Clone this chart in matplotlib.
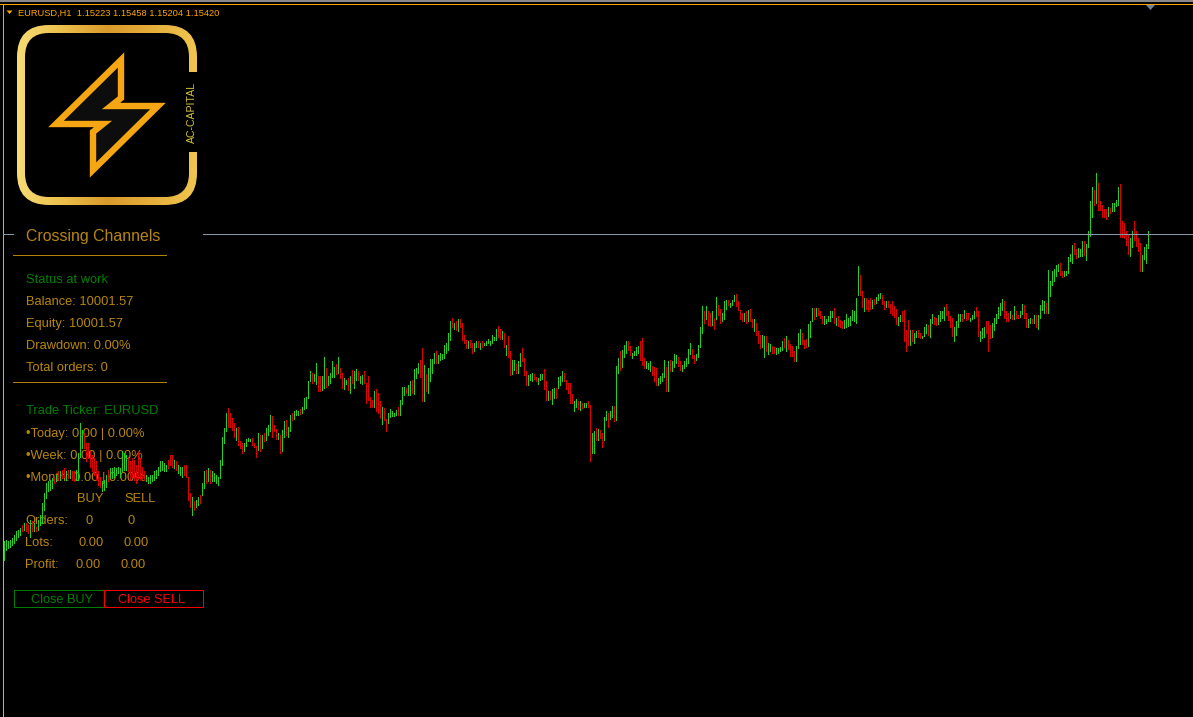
import matplotlib
matplotlib.use("Agg")
import matplotlib.pyplot as plt
from matplotlib.patches import Rectangle, Polygon, FancyBboxPatch
from matplotlib.colors import LinearSegmentedColormap
import numpy as np

# ---------------- data ----------------
symbol = "EURUSD"
timeframe = "H1"
last_ohlc = [1.15223, 1.15458, 1.15204, 1.15420]

highs = [
    1.1081, 1.1083, 1.1081, 1.1083, 1.1086, 1.1091, 1.1096, 1.1098, 1.1101, 1.1106,
    1.1108, 1.1108, 1.1106, 1.1113, 1.1111, 1.1108, 1.1103, 1.1113, 1.1121, 1.1138,
    1.1153, 1.1168, 1.1171, 1.1173, 1.1176, 1.1178, 1.1181, 1.1186, 1.1186, 1.1188,
    1.1191, 1.1186, 1.1188, 1.1188, 1.1186, 1.1186, 1.1188, 1.1213, 1.1258, 1.1248,
    1.1243, 1.1228, 1.1228, 1.1216, 1.1211, 1.1206, 1.1201, 1.1186, 1.1178, 1.1171,
    1.1173, 1.1181, 1.1188, 1.1191, 1.1191, 1.1193, 1.1191, 1.1193, 1.1191, 1.1216,
    1.1213, 1.1211, 1.1208, 1.1201, 1.1206, 1.1203, 1.1196, 1.1216, 1.1206, 1.1193,
    1.1186, 1.1181, 1.1178, 1.1181, 1.1181, 1.1186, 1.1188, 1.1193, 1.1201, 1.1201,
    1.1198, 1.1196, 1.1203, 1.1211, 1.1211, 1.1203, 1.1201, 1.1196, 1.1193, 1.1193,
    1.1196, 1.1196, 1.1178, 1.1153, 1.1148, 1.1141, 1.1143, 1.1148, 1.1151, 1.1168,
    1.1186, 1.1188, 1.1191, 1.1188, 1.1186, 1.1183, 1.1181, 1.1178, 1.1203, 1.1238,
    1.1251, 1.1273, 1.1281, 1.1273, 1.1266, 1.1258, 1.1251, 1.1253, 1.1232, 1.1229,
    1.1228, 1.1234, 1.1236, 1.1234, 1.1236, 1.1228, 1.1224, 1.1243, 1.1241, 1.1241,
    1.1243, 1.1251, 1.1256, 1.1271, 1.1269, 1.1256, 1.1249, 1.1244, 1.1241, 1.1248,
    1.1262, 1.1263, 1.1252, 1.1271, 1.1274, 1.1277, 1.1278, 1.1277, 1.1280, 1.1283,
    1.1296, 1.1297, 1.1321, 1.1336, 1.1333, 1.1332, 1.1349, 1.1329, 1.1329, 1.1329,
    1.1357, 1.1341, 1.1329, 1.1334, 1.1351, 1.1343, 1.1347, 1.1357, 1.1341, 1.1333,
    1.1326, 1.1323, 1.1326, 1.1329, 1.1338, 1.1336, 1.1339, 1.1337, 1.1329, 1.1330,
    1.1337, 1.1319, 1.1329, 1.1298, 1.1293, 1.1307, 1.1309, 1.1303, 1.1292, 1.1282,
    1.1281, 1.1264, 1.1274, 1.1279, 1.1276, 1.1273, 1.1278, 1.1282, 1.1293, 1.1312,
    1.1312, 1.1311, 1.1316, 1.1321, 1.1323, 1.1339, 1.1341, 1.1348, 1.1353, 1.1371,
    1.1346, 1.1332, 1.1341, 1.1354, 1.1354, 1.1363, 1.1366, 1.1361, 1.1363, 1.1362,
    1.1376, 1.1378, 1.1393, 1.1412, 1.1416, 1.1409, 1.1411, 1.1414, 1.1414, 1.1408,
    1.1391, 1.1383, 1.1382, 1.1383, 1.1379, 1.1379, 1.1381, 1.1382, 1.1379, 1.1381,
    1.1379, 1.1382, 1.1384, 1.1381, 1.1391, 1.1388, 1.1399, 1.1404, 1.1399, 1.1397,
    1.1393, 1.1376, 1.1389, 1.1367, 1.1353, 1.1353, 1.1347, 1.1351, 1.1363, 1.1371,
    1.1356, 1.1336, 1.1331, 1.1332, 1.1333, 1.1332, 1.1328, 1.1326, 1.1332, 1.1332,
    1.1339, 1.1321, 1.1307, 1.1306, 1.1309, 1.1311, 1.1311, 1.1327, 1.1329, 1.1336,
    1.1334, 1.1323, 1.1318, 1.1319, 1.1302, 1.1291, 1.1294, 1.1291, 1.1292, 1.1288,
    1.1288, 1.1289, 1.1291, 1.1286, 1.1244, 1.1246, 1.1251, 1.1249, 1.1248, 1.1243,
    1.1268, 1.1277, 1.1273, 1.1277, 1.1284, 1.1284, 1.1344, 1.1356, 1.1366, 1.1368,
    1.1376, 1.1381, 1.1381, 1.1374, 1.1364, 1.1367, 1.1372, 1.1374, 1.1381, 1.1386,
    1.1356, 1.1352, 1.1349, 1.1351, 1.1344, 1.1342, 1.1341, 1.1326, 1.1329, 1.1333,
    1.1353, 1.1343, 1.1351, 1.1353, 1.1351, 1.1362, 1.1361, 1.1357, 1.1352, 1.1346,
    1.1352, 1.1356, 1.1369, 1.1378, 1.1369, 1.1361, 1.1362, 1.1376, 1.1403, 1.1434,
    1.1426, 1.1434, 1.1426, 1.1423, 1.1427, 1.1416, 1.1448, 1.1436, 1.1429, 1.1423,
    1.1441, 1.1443, 1.1443, 1.1439, 1.1443, 1.1451, 1.1452, 1.1441, 1.1428, 1.1424,
    1.1423, 1.1426, 1.1428, 1.1429, 1.1414, 1.1414, 1.1409, 1.1396, 1.1391, 1.1391,
    1.1389, 1.1389, 1.1379, 1.1377, 1.1374, 1.1372, 1.1371, 1.1371, 1.1372, 1.1382,
    1.1386, 1.1389, 1.1383, 1.1377, 1.1374, 1.1367, 1.1374, 1.1393, 1.1399, 1.1393,
    1.1383, 1.1384, 1.1407, 1.1411, 1.1431, 1.1431, 1.1431, 1.1431, 1.1426, 1.1419,
    1.1419, 1.1414, 1.1419, 1.1426, 1.1427, 1.1431, 1.1416, 1.1419, 1.1413, 1.1411,
    1.1413, 1.1422, 1.1416, 1.1419, 1.1428, 1.1426, 1.1446, 1.1494, 1.1481, 1.1456,
    1.1446, 1.1446, 1.1443, 1.1446, 1.1443, 1.1444, 1.1448, 1.1452, 1.1454, 1.1451,
    1.1442, 1.1442, 1.1441, 1.1437, 1.1441, 1.1434, 1.1429, 1.1417, 1.1421, 1.1427,
    1.1428, 1.1398, 1.1413, 1.1398, 1.1398, 1.1393, 1.1396, 1.1398, 1.1393, 1.1389,
    1.1402, 1.1407, 1.1406, 1.1414, 1.1422, 1.1418, 1.1416, 1.1421, 1.1427, 1.1426,
    1.1433, 1.1437, 1.1427, 1.1419, 1.1416, 1.1402, 1.1411, 1.1422, 1.1422, 1.1422,
    1.1428, 1.1424, 1.1424, 1.1416, 1.1421, 1.1427, 1.1432, 1.1426, 1.1397, 1.1401,
    1.1402, 1.1411, 1.1412, 1.1406, 1.1409, 1.1416, 1.1422, 1.1432, 1.1438, 1.1444,
    1.1442, 1.1426, 1.1424, 1.1426, 1.1421, 1.1434, 1.1427, 1.1421, 1.1427, 1.1437,
    1.1436, 1.1424, 1.1414, 1.1416, 1.1414, 1.1421, 1.1421, 1.1421, 1.1436, 1.1443,
    1.1441, 1.1438, 1.1488, 1.1472, 1.1486, 1.1489, 1.1496, 1.1497, 1.1499, 1.1486,
    1.1486, 1.1486, 1.1507, 1.1512, 1.1526, 1.1528, 1.1519, 1.1521, 1.1519, 1.1532,
    1.1532, 1.1527, 1.1547, 1.1591, 1.1613, 1.1608, 1.1634, 1.1619, 1.1592, 1.1586,
    1.1579, 1.1579, 1.1582, 1.1581, 1.1589, 1.1589, 1.1593, 1.1612, 1.1617, 1.1561,
    1.1559, 1.1547, 1.1541, 1.1536, 1.1547, 1.1562, 1.1547, 1.1536, 1.1528, 1.1511,
    1.1522, 1.1527, 1.15458,
]

lows = [
    1.1053, 1.1068, 1.1071, 1.1073, 1.1076, 1.1078, 1.1083, 1.1088, 1.1091, 1.1096,
    1.1098, 1.1096, 1.1093, 1.1088, 1.1096, 1.1096, 1.1096, 1.1098, 1.1106, 1.1108,
    1.1128, 1.1146, 1.1156, 1.1158, 1.1161, 1.1168, 1.1171, 1.1173, 1.1173, 1.1176,
    1.1178, 1.1173, 1.1176, 1.1176, 1.1173, 1.1171, 1.1173, 1.1173, 1.1208, 1.1221,
    1.1221, 1.1201, 1.1206, 1.1193, 1.1186, 1.1181, 1.1173, 1.1166, 1.1163, 1.1156,
    1.1158, 1.1163, 1.1171, 1.1176, 1.1176, 1.1178, 1.1181, 1.1183, 1.1178, 1.1186,
    1.1188, 1.1188, 1.1186, 1.1173, 1.1178, 1.1173, 1.1168, 1.1176, 1.1173, 1.1176,
    1.1173, 1.1171, 1.1168, 1.1168, 1.1171, 1.1173, 1.1176, 1.1181, 1.1186, 1.1188,
    1.1186, 1.1186, 1.1191, 1.1196, 1.1193, 1.1191, 1.1188, 1.1183, 1.1181, 1.1178,
    1.1181, 1.1178, 1.1143, 1.1133, 1.1121, 1.1128, 1.1133, 1.1136, 1.1138, 1.1151,
    1.1161, 1.1168, 1.1171, 1.1168, 1.1171, 1.1171, 1.1168, 1.1166, 1.1176, 1.1196,
    1.1228, 1.1247, 1.1253, 1.1253, 1.1248, 1.1238, 1.1233, 1.1226, 1.1221, 1.1214,
    1.1216, 1.1224, 1.1231, 1.1231, 1.1226, 1.1223, 1.1208, 1.1218, 1.1217, 1.1221,
    1.1232, 1.1233, 1.1241, 1.1246, 1.1238, 1.1246, 1.1234, 1.1234, 1.1214, 1.1216,
    1.1237, 1.1241, 1.1237, 1.1246, 1.1263, 1.1264, 1.1271, 1.1271, 1.1272, 1.1273,
    1.1279, 1.1281, 1.1296, 1.1321, 1.1319, 1.1321, 1.1317, 1.1307, 1.1306, 1.1308,
    1.1311, 1.1312, 1.1316, 1.1318, 1.1327, 1.1327, 1.1332, 1.1333, 1.1326, 1.1311,
    1.1309, 1.1317, 1.1308, 1.1304, 1.1319, 1.1311, 1.1323, 1.1323, 1.1318, 1.1317,
    1.1319, 1.1288, 1.1293, 1.1283, 1.1283, 1.1283, 1.1277, 1.1273, 1.1266, 1.1257,
    1.1263, 1.1247, 1.1259, 1.1268, 1.1269, 1.1269, 1.1271, 1.1271, 1.1271, 1.1287,
    1.1301, 1.1303, 1.1301, 1.1301, 1.1303, 1.1302, 1.1326, 1.1333, 1.1328, 1.1291,
    1.1291, 1.1306, 1.1303, 1.1321, 1.1333, 1.1348, 1.1349, 1.1348, 1.1353, 1.1354,
    1.1356, 1.1363, 1.1368, 1.1383, 1.1403, 1.1399, 1.1398, 1.1396, 1.1403, 1.1383,
    1.1378, 1.1371, 1.1371, 1.1373, 1.1364, 1.1367, 1.1372, 1.1373, 1.1369, 1.1373,
    1.1375, 1.1376, 1.1378, 1.1375, 1.1378, 1.1383, 1.1383, 1.1387, 1.1384, 1.1384,
    1.1372, 1.1361, 1.1358, 1.1331, 1.1332, 1.1338, 1.1334, 1.1334, 1.1344, 1.1351,
    1.1331, 1.1316, 1.1316, 1.1323, 1.1322, 1.1324, 1.1321, 1.1317, 1.1323, 1.1325,
    1.1309, 1.1293, 1.1293, 1.1294, 1.1287, 1.1296, 1.1296, 1.1311, 1.1316, 1.1321,
    1.1322, 1.1309, 1.1304, 1.1289, 1.1289, 1.1276, 1.1283, 1.1279, 1.1278, 1.1281,
    1.1283, 1.1282, 1.1283, 1.1201, 1.1214, 1.1214, 1.1233, 1.1233, 1.1236, 1.1222,
    1.1233, 1.1263, 1.1253, 1.1264, 1.1268, 1.1261, 1.1263, 1.1333, 1.1338, 1.1343,
    1.1358, 1.1363, 1.1368, 1.1361, 1.1356, 1.1361, 1.1361, 1.1363, 1.1353, 1.1346,
    1.1341, 1.1341, 1.1339, 1.1336, 1.1331, 1.1321, 1.1316, 1.1316, 1.1318, 1.1321,
    1.1328, 1.1306, 1.1307, 1.1337, 1.1337, 1.1342, 1.1348, 1.1344, 1.1338, 1.1337,
    1.1341, 1.1344, 1.1349, 1.1362, 1.1356, 1.1349, 1.1353, 1.1358, 1.1373, 1.1394,
    1.1408, 1.1414, 1.1406, 1.1404, 1.1406, 1.1400, 1.1414, 1.1421, 1.1408, 1.1412,
    1.1414, 1.1429, 1.1436, 1.1432, 1.1436, 1.1441, 1.1434, 1.1428, 1.1414, 1.1412,
    1.1412, 1.1408, 1.1411, 1.1411, 1.1403, 1.1397, 1.1391, 1.1379, 1.1371, 1.1372,
    1.1358, 1.1366, 1.1362, 1.1366, 1.1363, 1.1363, 1.1362, 1.1364, 1.1366, 1.1368,
    1.1373, 1.1366, 1.1369, 1.1359, 1.1359, 1.1352, 1.1352, 1.1371, 1.1377, 1.1377,
    1.1371, 1.1372, 1.1374, 1.1387, 1.1411, 1.1414, 1.1419, 1.1421, 1.1416, 1.1408,
    1.1407, 1.1409, 1.1411, 1.1412, 1.1418, 1.1409, 1.1406, 1.1404, 1.1402, 1.1401,
    1.1401, 1.1402, 1.1404, 1.1406, 1.1413, 1.1411, 1.1409, 1.1451, 1.1451, 1.1433,
    1.1427, 1.1429, 1.1427, 1.1429, 1.1431, 1.1437, 1.1439, 1.1443, 1.1446, 1.1437,
    1.1429, 1.1433, 1.1433, 1.1423, 1.1421, 1.1417, 1.1407, 1.1406, 1.1411, 1.1411,
    1.1381, 1.1366, 1.1376, 1.1376, 1.1381, 1.1379, 1.1387, 1.1388, 1.1386, 1.1386,
    1.1389, 1.1393, 1.1391, 1.1388, 1.1409, 1.1407, 1.1406, 1.1407, 1.1412, 1.1416,
    1.1413, 1.1421, 1.1413, 1.1402, 1.1389, 1.1382, 1.1391, 1.1403, 1.1411, 1.1411,
    1.1416, 1.1413, 1.1414, 1.1412, 1.1414, 1.1416, 1.1419, 1.1389, 1.1381, 1.1386,
    1.1387, 1.1393, 1.1367, 1.1386, 1.1387, 1.1398, 1.1408, 1.1416, 1.1421, 1.1428,
    1.1416, 1.1411, 1.1412, 1.1416, 1.1414, 1.1414, 1.1416, 1.1416, 1.1418, 1.1422,
    1.1416, 1.1402, 1.1403, 1.1408, 1.1408, 1.1409, 1.1403, 1.1400, 1.1416, 1.1428,
    1.1424, 1.1423, 1.1423, 1.1449, 1.1466, 1.1472, 1.1479, 1.1486, 1.1481, 1.1477,
    1.1479, 1.1481, 1.1483, 1.1501, 1.1499, 1.1512, 1.1506, 1.1508, 1.1509, 1.1509,
    1.1511, 1.1503, 1.1522, 1.1539, 1.1567, 1.1586, 1.1588, 1.1578, 1.1578, 1.1567,
    1.1567, 1.1564, 1.1569, 1.1573, 1.1576, 1.1577, 1.1584, 1.1586, 1.1538, 1.1537,
    1.1536, 1.1526, 1.1512, 1.1509, 1.1523, 1.1533, 1.1524, 1.1517, 1.1487, 1.1487,
    1.1504, 1.1499, 1.15204,
]

# 'g' = bullish bar, 'r' = bearish bar
bar_dir = (
    "gggggggggr" "grrgrgrggg" "gggggrgrgr" "rgrgrrgggg" "rrrrrrrrrg"
    "ggrggggggg" "ggrrrrrrrr" "rggggggggg" "ggrrrgrggg" "rrrrgrggrg"
    "grgrgggggg" "ggrrrrgrrr" "ggggrrrgrg" "rgggrrrgrg" "grggrgggrg"
    "ggggrggrrg" "grggggrgrr" "ggrgrggrgg" "rrrrrgrrrg" "rrgggggrgg"
    "grggrgggrr" "grggggrggg" "ggggrgrgrr" "rrgrrggrgr" "gggggggrrg"
    "rgrrggrggr" "rrgggrrggg" "rrgrggrggg" "rrrrrggrgr" "ggrrggrgrr"
    "ggrggrggrg" "ggrrggggrr" "rgggrrrggg" "grgrgggrrg" "ggggrrgggg"
    "rgrrgrgrrg" "ggrgggrrrr" "grgrrgrrrg" "grggrrgggg" "rgrrrrgggr"
    "rrgggrgrrr" "gggggrgrrr" "ggggggggrr" "grrrgrgggr" "rgrrrrrggr"
    "rrrgrggrrg" "ggrggrrggg" "grrrrggggr" "grrgggrrgg" "grrrgggggg"
    "rrrgrgrrgg" "rrggrgrggg" "grggggggrr" "gggggrrggg" "rggggrgrrr"
    "rrgrggggrr" "rrrggrrrrg" "ggg"
)

ea_name = "Crossing Channels"
status = "Status at work"
balance = 10001.57
equity = 10001.57
drawdown = 0.00
total_orders = 0
ticker = "EURUSD"
period_labels = ["Today", "Week", "Month"]
period_profit = [0.00, 0.00, 0.00]
period_pct = [0.00, 0.00, 0.00]
buy_orders, sell_orders = 0, 0
buy_lots, sell_lots = 0.00, 0.00
buy_profit, sell_profit = 0.00, 0.00

# ---------------- style ----------------
W, H = 1193, 717
UP = "#22d022"
DOWN = "#e00000"
GOLD = "#b8860b"
GREEN = "#008000"
ORANGE = "#ffa500"
BIDLINE = "#8497a8"
FONT = "Liberation Sans"

fig = plt.figure(figsize=(W / 100, H / 100), dpi=100, facecolor="black")

# overlay axes in pixel units
ov = fig.add_axes([0, 0, 1, 1])
ov.set_xlim(0, W)
ov.set_ylim(H, 0)
ov.set_facecolor("black")
ov.axis("off")
ov.set_zorder(0)

# price chart axes
ax = fig.add_axes([0, 0, 1, 1])
ax.set_facecolor("none")
ax.axis("off")
ax.set_zorder(1)
ax.set_xlim(-1.75, 594.75)
ax.set_ylim(1.08175, 1.18930)

idx = np.arange(len(highs))
cols = [UP if c == "g" else DOWN for c in bar_dir]
ax.vlines(idx, lows, highs, colors=cols, linewidth=0.5, antialiased=False)

# bid line (interrupted behind the title text)
ax.axhline(last_ohlc[3], xmin=3 / W, xmax=13 / W, color=BIDLINE, lw=0.5, antialiased=False)
ax.axhline(last_ohlc[3], xmin=203 / W, xmax=1.0, color=BIDLINE, lw=0.5, antialiased=False)

# ---- window frame ----
ov.add_patch(Rectangle((0, 0), W, 2, facecolor="#8a8a8a", edgecolor="none"))
ov.add_patch(Rectangle((0, 4), W, 1.2, facecolor=ORANGE, edgecolor="none"))
ov.add_patch(Rectangle((2.5, 4), 1.6, H, facecolor=ORANGE, edgecolor="none"))
ov.add_patch(Polygon([(1146, 5), (1155, 5), (1150.5, 10)], closed=True,
                     facecolor="#708090", edgecolor="none"))

# header
ov.add_patch(Polygon([(6.5, 10.5), (12.5, 10.5), (9.5, 14)], closed=True,
                     facecolor=ORANGE, edgecolor="none"))
hdr = f"{symbol},{timeframe}  " + " ".join(f"{v:.5f}" for v in last_ohlc)
ov.text(18.5, 15.6, hdr, color=ORANGE, fontsize=6.7, family=FONT, va="baseline", ha="left")

# ---- logo ----
outer = FancyBboxPatch((17, 25), 180, 180, boxstyle="round,pad=0,rounding_size=32",
                       facecolor="none", edgecolor="none")
ov.add_patch(outer)
cmap = LinearSegmentedColormap.from_list("gold", ["#f6dc74", "#ecc04c", "#d99a2c", "#e6ae3a", "#f0c650"])
grad = np.tile(np.linspace(0, 1, 256), (64, 1))
im = ov.imshow(grad, cmap=cmap, extent=(17, 197, 205, 25), aspect="auto", zorder=1)
im.set_clip_path(outer)
ov.set_xlim(0, W)
ov.set_ylim(H, 0)
ov.add_patch(FancyBboxPatch((25, 33), 164, 164, boxstyle="round,pad=0,rounding_size=24",
                            facecolor="black", edgecolor="none", zorder=2))
bolt = [(121, 60), (56, 124), (103, 124), (93, 132), (93, 170),
        (158, 106), (111, 106), (121, 98)]
ov.add_patch(Polygon(bolt, closed=True, facecolor="#0d0d0d", edgecolor="#f5a612",
                     lw=4.6, joinstyle="miter", zorder=3))
ov.add_patch(Rectangle((184.5, 72), 13.5, 80, facecolor="black", edgecolor="none", zorder=3))
ov.text(191.5, 112, "AC-CAPITAL", rotation=90, color="#d8c43a", fontsize=7.6,
        family=FONT, ha="center", va="center", zorder=4)

# ---- info panel ----
ov.text(25.5, 241, ea_name, color=GOLD, fontsize=11.4, family=FONT, va="baseline")
ov.plot([13, 166], [254.5, 254.5], color=GOLD, lw=0.7)
ov.text(25.5, 282.7, status, color=GREEN, fontsize=9.3, family=FONT, va="baseline")
ov.text(25.5, 304.7, f"Balance: {balance:.2f}", color=GOLD, fontsize=9.3, family=FONT, va="baseline")
ov.text(25.5, 326.7, f"Equity: {equity:.2f}", color=GOLD, fontsize=9.3, family=FONT, va="baseline")
ov.text(25.5, 348.7, f"Drawdown: {drawdown:.2f}%", color=GOLD, fontsize=9.3, family=FONT, va="baseline")
ov.text(25.5, 370.7, f"Total orders: {total_orders}", color=GOLD, fontsize=9.3, family=FONT, va="baseline")
ov.plot([13, 166], [381.5, 381.5], color=GOLD, lw=0.7)
ov.text(25.5, 414.5, f"Trade Ticker: {ticker}", color=GREEN, fontsize=9.3, family=FONT, va="baseline")
for k, (lab, pr, pc) in enumerate(zip(period_labels, period_profit, period_pct)):
    ov.text(25.5, 436.5 + 22 * k, f"\u2022{lab}: {pr:.2f} | {pc:.2f}%", color=GOLD,
            fontsize=9.3, family=FONT, va="baseline")
ov.text(77.3, 502.5, "BUY", color=GOLD, fontsize=9.3, family=FONT, va="baseline")
ov.text(124.3, 502.5, "SELL", color=GOLD, fontsize=9.3, family=FONT, va="baseline")
ov.text(25.5, 524.5, "Orders:", color=GOLD, fontsize=9.3, family=FONT, va="baseline")
ov.text(85, 524.5, f"{buy_orders}", color=GOLD, fontsize=9.3, family=FONT, va="baseline")
ov.text(128, 524.5, f"{sell_orders}", color=GOLD, fontsize=9.3, family=FONT, va="baseline")
ov.text(25.5, 546.5, "Lots:", color=GOLD, fontsize=9.3, family=FONT, va="baseline")
ov.text(78.5, 546.5, f"{buy_lots:.2f}", color=GOLD, fontsize=9.3, family=FONT, va="baseline")
ov.text(123.3, 546.5, f"{sell_lots:.2f}", color=GOLD, fontsize=9.3, family=FONT, va="baseline")
ov.text(25.5, 568.5, "Profit:", color=GOLD, fontsize=9.3, family=FONT, va="baseline")
ov.text(75.7, 568.5, f"{buy_profit:.2f}", color=GOLD, fontsize=9.3, family=FONT, va="baseline")
ov.text(120.7, 568.5, f"{sell_profit:.2f}", color=GOLD, fontsize=9.3, family=FONT, va="baseline")

# buttons
ov.add_patch(Rectangle((13.5, 589.5), 90, 17, facecolor="black", edgecolor=GREEN, lw=0.7))
ov.add_patch(Rectangle((103.5, 589.5), 99, 17, facecolor="black", edgecolor="#ff0000", lw=0.7))
ov.text(30.7, 602.7, "Close BUY", color=GREEN, fontsize=9.2, family=FONT, va="baseline")
ov.text(117.7, 602.7, "Close SELL", color="#ff0000", fontsize=9.2, family=FONT, va="baseline")

fig.savefig("out.png", dpi=100, facecolor="black")
